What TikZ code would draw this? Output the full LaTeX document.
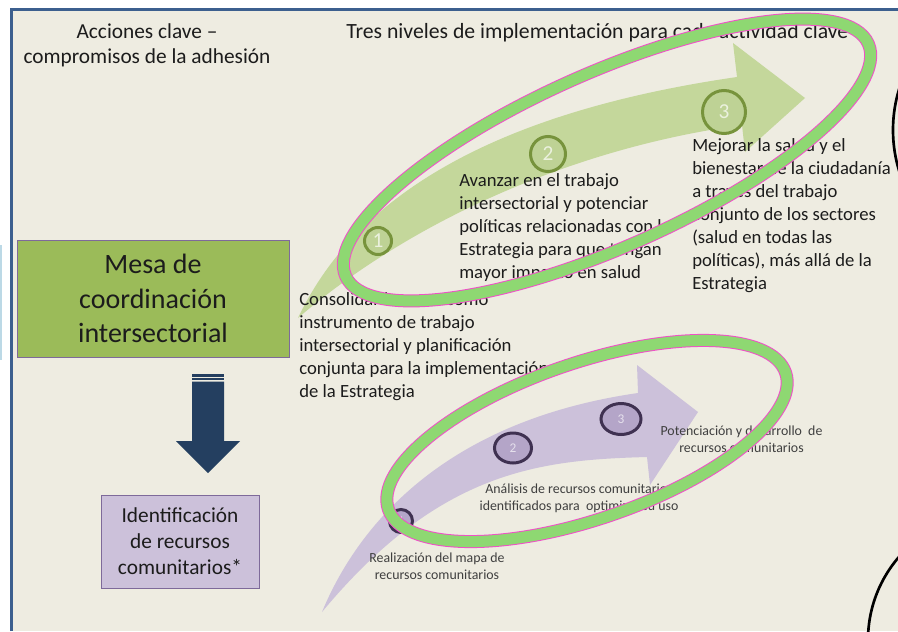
\documentclass[tikz,border=0pt]{standalone}
\usepackage{fontspec}
\setmainfont{Carlito}
\usetikzlibrary{shapes.geometric}
\definecolor{beige}{HTML}{EEECE1}
\definecolor{frameblue}{HTML}{3C5F8E}
\definecolor{sideblue}{HTML}{BCD9E6}
\definecolor{boxgreen}{HTML}{9BBB59}
\definecolor{boxpurple}{HTML}{CCC1DA}
\definecolor{boxedge}{HTML}{7E6A9A}
\definecolor{navy}{HTML}{243F60}
\definecolor{bandgreen}{HTML}{C4D79B}
\definecolor{ringgreen}{HTML}{77933C}
\definecolor{ringfillg}{HTML}{BED295}
\definecolor{numgreen}{HTML}{EBF1DE}
\definecolor{bandpurple}{HTML}{CCC1DA}
\definecolor{ringpurple}{HTML}{3F3151}
\definecolor{ringfillp}{HTML}{B4A5C8}
\definecolor{numpurple}{HTML}{E5E0EC}
\definecolor{hilite}{HTML}{8ED872}
\definecolor{hiliteedge}{HTML}{F050C8}
\definecolor{txt}{HTML}{1C1C1C}
\definecolor{smalltxt}{HTML}{3F3F3F}
\begin{document}
\begin{tikzpicture}[x=0.75pt,y=-0.75pt,
  titletext/.style={inner sep=0pt, text=txt, align=center, font=\fontsize{16}{19.5}\selectfont},
  bodytext/.style={anchor=north west, inner sep=0pt, text=txt, align=left, font=\fontsize{14}{17.25}\selectfont},
  smalltext/.style={anchor=north, inner sep=0pt, text=smalltxt, align=center, font=\fontsize{10.4}{12.75}\selectfont},
  gring/.style={circle, draw=ringgreen, fill=ringfillg, line width=2.25pt, inner sep=0pt, text=numgreen, font=\fontsize{16}{18}\selectfont},
  pring/.style={ellipse, draw=ringpurple, fill=ringfillp, line width=2.25pt, inner sep=0pt, text=numpurple, font=\fontsize{10}{12}\selectfont},
  keybox/.style={draw=boxedge, line width=0.75pt, inner sep=0pt, align=center, text=txt},
  hiedge/.style={draw=hiliteedge, line width=9.75pt},
  hifill/.style={draw=hilite, line width=8.25pt}
]
\useasboundingbox (0,0) rectangle (898,631);
\fill[white] (0,0) rectangle (898,631);
% slide
\fill[beige] (11,10) rectangle (898,631);
\draw[frameblue, line width=2.25pt] (11,631) -- (11,10) -- (898,10);
\draw[sideblue, line width=1.5pt] (1,245) -- (1,360);

% green curved arrow
\fill[bandgreen] (298,318) .. controls (340,230) and (440,120) .. (737,77)
  -- (733,43) -- (805,98) -- (745,152) -- (742,125)
  .. controls (560,150) and (400,230) .. (298,318) -- cycle;
% purple curved arrow
\fill[bandpurple] (322,612) .. controls (360,520) and (450,420) .. (638,393)
  -- (637,365) -- (698,412) -- (650,485) -- (647,457)
  .. controls (540,460) and (440,470) .. (322,612) -- cycle;

% green rings
\node[gring, minimum size=20.25pt] (g1) at (378,241) {1};
\node[gring, minimum size=26.25pt] (g2) at (548,154) {2};
\node[gring, minimum size=32.25pt] (g3) at (724,112) {3};
% purple rings
\node[pring, minimum width=17.25pt, minimum height=17.25pt] (p1) at (401,521) {1};
\node[pring, minimum width=27.75pt, minimum height=22.5pt] (p2) at (513,448) {2};
\node[pring, minimum width=30pt, minimum height=23.25pt] (p3) at (621,419) {3};

% headings
\node[titletext, anchor=base] (acc1) at (147,38.5) {Acciones clave --};
\node[titletext, anchor=base] (acc2) at (147,64) {compromisos de la adhesión};
\node[titletext, anchor=base west, font=\fontsize{16.3}{19.5}\selectfont] (tres) at (346,38.5) {Tres niveles de implementación para cada actividad clave};

% green texts
\node[bodytext] (t1) at (299,289) {\strut Consolidar la mesa como\\instrumento de trabajo\\intersectorial y planificación\\conjunta para la implementación\\de la Estrategia};
\node[bodytext] (t2) at (459,170) {\strut Avanzar en el trabajo\\intersectorial y potenciar\\políticas relacionadas con la\\Estrategia para que tengan\\mayor impacto en salud};
\node[bodytext] (t3) at (692,135) {\strut Mejorar la salud y el\\bienestar de la ciudadanía\\a través del trabajo\\conjunto de los sectores\\(salud en todas las\\políticas), más allá de la\\Estrategia};

% purple texts
\node[smalltext] (s3) at (741.5,423) {\strut Potenciación y desarrollo\ \ de\\recursos comunitarios};
\node[smalltext] (s2) at (579,481) {\strut Análisis de recursos comunitarios\\identificados para\ \ optimizar su uso};
\node[smalltext] (s1) at (437,550) {\strut Realización del mapa de\\recursos comunitarios};

% left boxes
\node[keybox, fill=boxgreen, minimum width=204pt, minimum height=87.75pt, font=\fontsize{21}{25.9}\selectfont] (mesa) at (153,298.5) {Mesa de\\coordinación\\intersectorial};
\node[keybox, fill=boxpurple, minimum width=118.5pt, minimum height=69.75pt, font=\fontsize{16}{19.5}\selectfont] (ident) at (180,541.5) {Identificación\\de recursos\\comunitarios*};

% striped block arrow
\fill[navy] (192,374) rectangle (224,376.5);
\fill[navy] (192,378) rectangle (224,380);
\fill[navy] (192,381.5) -- (224,381.5) -- (224,441) -- (240,441) -- (208,473) -- (176,441) -- (192,441) -- cycle;

% highlight ellipses
\begin{scope}[shift={(607,160)}, rotate=24]
  \draw[hiedge] (0,0) ellipse [x radius=214.5pt, y radius=65.25pt];
  \draw[hifill] (0,0) ellipse [x radius=214.5pt, y radius=65.25pt];
\end{scope}
\begin{scope}[shift={(587,441)}, rotate=19]
  \draw[hiedge] (0,0) ellipse [x radius=157.5pt, y radius=58.5pt];
  \draw[hifill] (0,0) ellipse [x radius=157.5pt, y radius=58.5pt];
\end{scope}

% partial circles at right edge
\begin{scope}
  \clip (0,0) rectangle (898,631);
  \draw[black, line width=2pt] (1032,130) circle [radius=104.25pt];
  \draw[black, line width=2pt] (995,640) circle [radius=95.25pt];
\end{scope}
\end{tikzpicture}
\end{document}
